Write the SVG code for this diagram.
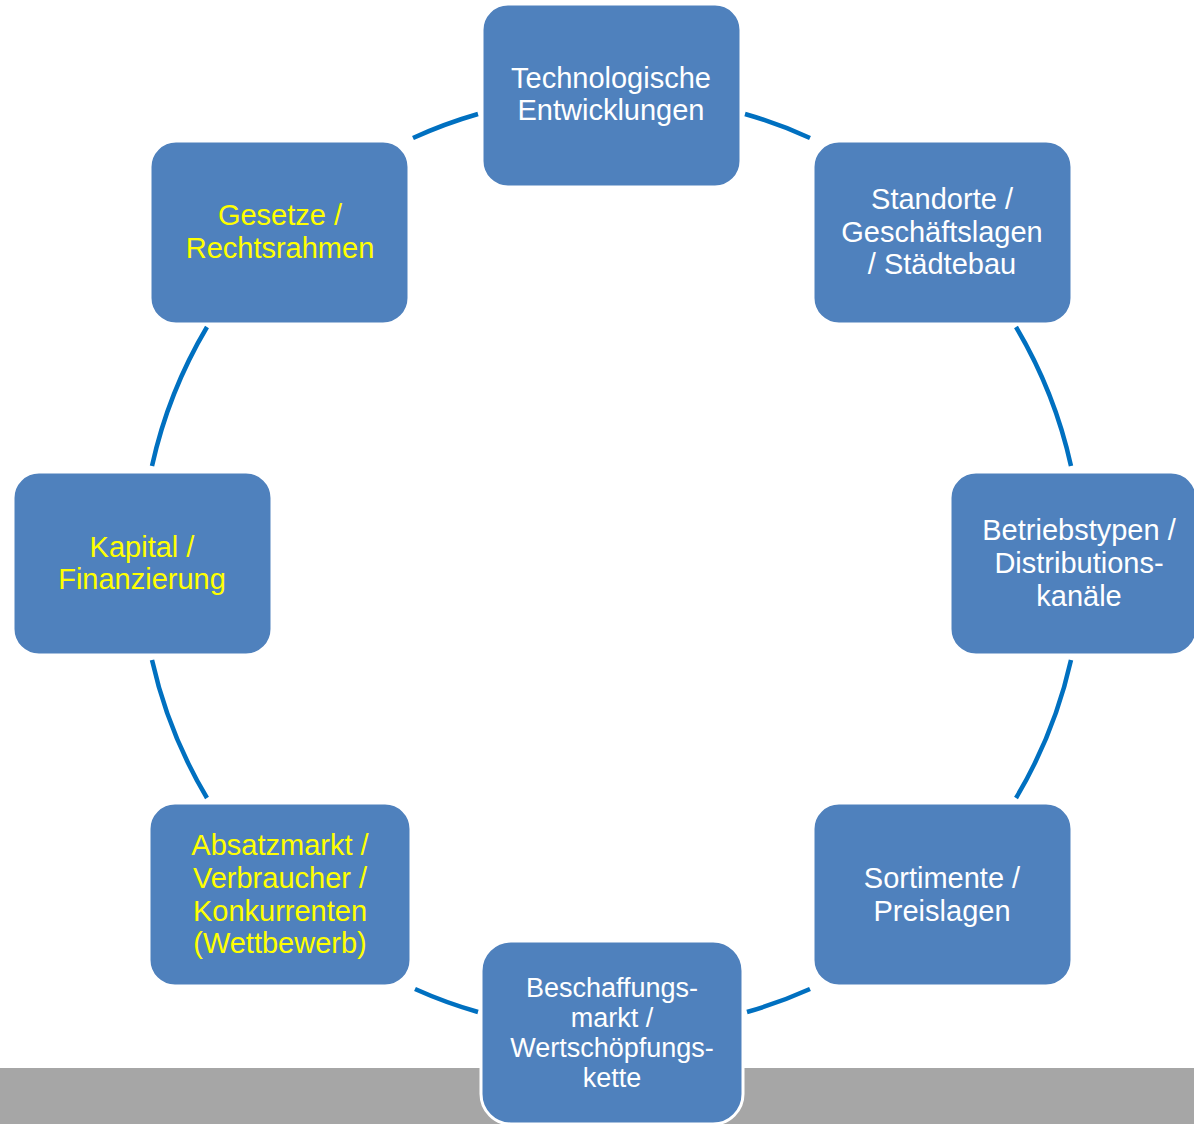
<svg xmlns="http://www.w3.org/2000/svg" width="1194" height="1124" viewBox="0 0 1194 1124">
  <style>
    .box { fill: #4F81BD; stroke: #FFFFFF; stroke-width: 3; }
    .arc { fill: none; stroke: #0070C0; stroke-width: 4.5; }
    .lbl { font-family: "Liberation Sans", Arial, sans-serif; font-size: 29px; text-anchor: middle; fill: #FFFFFF; }
    .small { font-size: 27px; }
    .yel { fill: #FFFF00; }
  </style>

  <!-- background strip along the bottom -->
  <rect x="0" y="1068" width="1194" height="56" fill="#A6A6A6"/>

  <!-- ring segments between the boxes (circle r=469 around 611,563) -->
  <g id="connectors">
    <path class="arc" d="M413,138 A469,469 0 0 1 478,114"/>
    <path class="arc" d="M745,114 A469,469 0 0 1 810,138"/>
    <path class="arc" d="M1016,327 A469,469 0 0 1 1071,466"/>
    <path class="arc" d="M1071,660 A469,469 0 0 1 1016,798"/>
    <path class="arc" d="M810,989 A469,469 0 0 1 747,1012"/>
    <path class="arc" d="M478,1012 A469,469 0 0 1 415,989"/>
    <path class="arc" d="M207,798 A469,469 0 0 1 152,660"/>
    <path class="arc" d="M152,466 A469,469 0 0 1 207,327"/>
  </g>

  <g id="technologie">
    <rect class="box" x="482" y="4" width="259" height="183" rx="26"/>
    <text class="lbl" x="611" y="88">Technologische</text>
    <text class="lbl" x="611" y="120">Entwicklungen</text>
  </g>

  <g id="standorte">
    <rect class="box" x="813" y="141" width="259" height="183" rx="26"/>
    <text class="lbl" x="942" y="209">Standorte /</text>
    <text class="lbl" x="942" y="242">Geschäftslagen</text>
    <text class="lbl" x="942" y="274">/ Städtebau</text>
  </g>

  <g id="betriebstypen">
    <rect class="box" x="950" y="472" width="247" height="183" rx="26"/>
    <text class="lbl" x="1079" y="540">Betriebstypen /</text>
    <text class="lbl" x="1079" y="573">Distributions-</text>
    <text class="lbl" x="1079" y="606">kanäle</text>
  </g>

  <g id="sortimente">
    <rect class="box" x="813" y="803" width="259" height="183" rx="26"/>
    <text class="lbl" x="942" y="888">Sortimente /</text>
    <text class="lbl" x="942" y="921">Preislagen</text>
  </g>

  <g id="beschaffung">
    <rect class="box" x="481" y="941" width="262" height="183" rx="30"/>
    <text class="lbl small" x="612" y="997">Beschaffungs-</text>
    <text class="lbl small" x="612" y="1027">markt /</text>
    <text class="lbl small" x="612" y="1057">Wertschöpfungs-</text>
    <text class="lbl small" x="612" y="1087">kette</text>
  </g>

  <g id="absatzmarkt">
    <rect class="box" x="149" y="803" width="262" height="183" rx="26"/>
    <text class="lbl yel" x="280" y="855">Absatzmarkt /</text>
    <text class="lbl yel" x="280" y="888">Verbraucher /</text>
    <text class="lbl yel" x="280" y="921">Konkurrenten</text>
    <text class="lbl yel" x="280" y="953">(Wettbewerb)</text>
  </g>

  <g id="kapital">
    <rect class="box" x="13" y="472" width="259" height="183" rx="26"/>
    <text class="lbl yel" x="142" y="557">Kapital /</text>
    <text class="lbl yel" x="142" y="589">Finanzierung</text>
  </g>

  <g id="gesetze">
    <rect class="box" x="150" y="141" width="259" height="183" rx="26"/>
    <text class="lbl yel" x="280" y="225">Gesetze /</text>
    <text class="lbl yel" x="280" y="258">Rechtsrahmen</text>
  </g>
</svg>
